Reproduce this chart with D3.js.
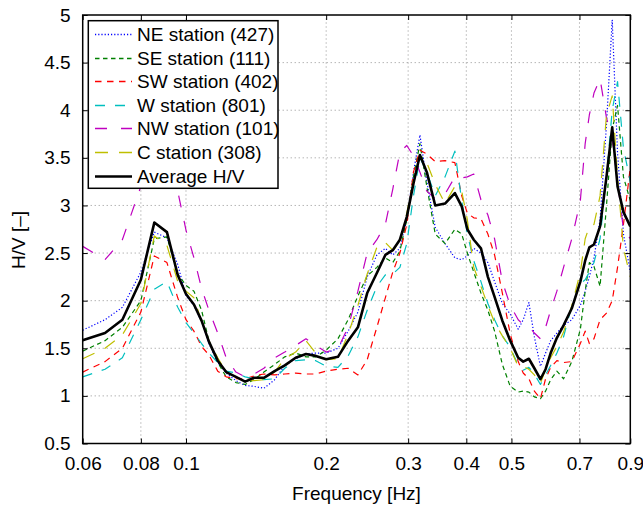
<!DOCTYPE html>
<html>
<head>
<meta charset="utf-8">
<script src="https://cdn.jsdelivr.net/npm/d3@7/dist/d3.min.js"></script>
<style>
  html, body { margin: 0; padding: 0; background: #fff; }
  svg text { font-family: "Liberation Sans", Arial, Helvetica, sans-serif; fill: #000; }
</style>
</head>
<body>
<svg id="chart" width="643" height="508"></svg>
<script>
// frequency samples [Hz]
const freqs = [0.060, 0.067, 0.073, 0.080, 0.0855, 0.091, 0.096, 0.100, 0.104, 0.108,
  0.112, 0.117, 0.122, 0.128, 0.134, 0.140, 0.147, 0.155, 0.163, 0.172,
  0.181, 0.190, 0.200, 0.212, 0.223, 0.234, 0.245, 0.257, 0.268, 0.278,
  0.288, 0.298, 0.308, 0.318, 0.329, 0.343, 0.360, 0.378, 0.391, 0.402,
  0.415, 0.430, 0.445, 0.460, 0.478, 0.497, 0.517, 0.530, 0.545, 0.560,
  0.577, 0.592, 0.607, 0.626, 0.647, 0.674, 0.703, 0.720, 0.735, 0.752,
  0.775, 0.800, 0.823, 0.845, 0.870, 0.900];

// H/V ratios per station
const neValues = [1.69, 1.80, 1.93, 2.3, 2.72, 2.66, 2.38, 2.05, 1.95, 1.78,
  1.55, 1.35, 1.24, 1.16, 1.11, 1.10, 1.08, 1.17, 1.32, 1.39,
  1.44, 1.45, 1.45, 1.50, 1.68, 1.88, 2.25, 2.48, 2.55, 2.48,
  2.55, 2.85, 3.35, 3.74, 3.25, 2.77, 2.6, 2.45, 2.43, 2.47,
  2.55, 2.5, 2.4, 2.2, 1.97, 1.86, 1.7, 1.8, 1.98, 1.62,
  1.31, 1.45, 1.58, 1.66, 1.74, 1.8, 1.95, 2.1, 2.25, 2.45,
  2.85, 3.85, 4.95, 3.55, 2.7, 2.3];
const seValues = [1.47, 1.58, 1.72, 2.0, 2.65, 2.67, 2.28, 2.16, 2.1, 1.9,
  1.58, 1.35, 1.2, 1.14, 1.12, 1.17, 1.25, 1.33, 1.41, 1.45,
  1.41, 1.41, 1.48, 1.6, 1.8, 2.05, 2.26, 2.35, 2.45, 2.4,
  2.52, 2.85, 3.3, 3.65, 3.2, 2.7, 2.6, 2.75, 2.7, 2.5,
  2.3, 2.08, 1.9, 1.68, 1.33, 1.1, 1.04, 1.05, 1.04, 0.99,
  0.97, 1.05, 1.17, 1.26, 1.18, 1.36, 1.7, 2.1, 2.4, 2.36,
  2.15, 3.0, 3.8, 4.05, 3.3, 3.05];
const swValues = [1.25, 1.36, 1.5, 1.88, 2.47, 2.4, 2.03, 1.8, 1.68, 1.52,
  1.43, 1.26, 1.2, 1.18, 1.18, 1.21, 1.23, 1.22, 1.23, 1.24,
  1.23, 1.23, 1.26, 1.28, 1.29, 1.22, 1.38, 1.72, 2.03, 2.3,
  2.5, 2.8, 3.35, 3.58, 3.54, 3.46, 3.47, 3.45, 3.1, 2.92,
  2.87, 2.86, 2.7, 2.48, 2.08, 1.65, 1.36, 1.24, 1.18, 1.05,
  0.97, 1.18, 1.3, 1.37, 1.35, 1.36, 1.55, 1.68, 1.55, 1.6,
  1.8, 1.87, 2.0, 2.35, 2.8, 3.4];
const wValues = [1.2, 1.28, 1.4, 1.8, 2.12, 2.2, 1.93, 1.77, 1.66, 1.55,
  1.45, 1.35, 1.26, 1.24, 1.2, 1.18, 1.17, 1.18, 1.29, 1.37,
  1.38, 1.37, 1.31, 1.3, 1.42, 1.62, 1.9, 2.15, 2.27, 2.28,
  2.35, 2.6, 3.1, 3.5, 3.35, 3.1, 3.3, 3.57, 3.05, 2.7,
  2.42, 2.2, 1.97, 1.8, 1.63, 1.51, 1.32, 1.27, 1.3, 1.23,
  1.12, 1.22, 1.32, 1.45, 1.62, 1.95, 2.18, 2.22, 2.3, 2.4,
  2.65, 3.3, 4.0, 4.3, 3.6, 3.25];
const nwValues = [2.57, 2.43, 2.64, 3.2, 3.9, 3.8, 3.15, 2.74, 2.45, 2.13,
  1.9, 1.66, 1.4, 1.25, 1.2, 1.23, 1.29, 1.4, 1.46, 1.53,
  1.6, 1.53, 1.46, 1.5, 1.72, 2.1, 2.5, 2.64, 2.8, 3.17,
  3.56, 3.63, 3.52, 3.35, 3.15, 3.07, 3.12, 3.3, 3.29, 3.3,
  3.33, 3.06, 2.9, 2.65, 2.2, 1.95, 1.8, 1.75, 1.73, 1.66,
  1.6, 1.72, 1.9, 2.1, 2.35, 2.65, 3.05, 3.65, 3.95, 4.18,
  4.33, 3.92, 3.7, 3.25, 2.75, 2.65];
const cValues = [1.39, 1.5, 1.64, 1.97, 2.68, 2.58, 2.2, 2.1, 2.03, 1.78,
  1.58, 1.4, 1.25, 1.2, 1.16, 1.16, 1.17, 1.25, 1.39, 1.46,
  1.58, 1.45, 1.38, 1.39, 1.65, 1.95, 2.28, 2.56, 2.61, 2.53,
  2.6, 2.92, 3.27, 3.51, 3.45, 3.22, 3.02, 3.2, 3.15, 2.85,
  2.35, 2.15, 1.95, 1.77, 1.63, 1.5, 1.31, 1.31, 1.28, 1.22,
  1.13, 1.28, 1.4, 1.52, 1.67, 1.95, 2.3, 2.65, 2.78, 2.8,
  3.1, 3.95, 4.15, 3.3, 2.55, 2.25];
const avgValues = [1.585, 1.66, 1.80, 2.22, 2.82, 2.72, 2.27, 2.07, 1.96, 1.79,
  1.57, 1.37, 1.25, 1.20, 1.15, 1.19, 1.19, 1.26, 1.32, 1.40,
  1.44, 1.42, 1.385, 1.41, 1.58, 1.72, 2.08, 2.29, 2.48, 2.53,
  2.64, 2.88, 3.23, 3.53, 3.35, 3.00, 3.02, 3.13, 2.99, 2.75,
  2.64, 2.55, 2.25, 2.04, 1.79, 1.58, 1.40, 1.36, 1.39, 1.29,
  1.175, 1.28, 1.45, 1.61, 1.74, 1.92, 2.2, 2.42, 2.56, 2.59,
  2.78, 3.3, 3.82, 3.2, 2.93, 2.78];

const seriesNames = ["NE station (427)", "SE station (111)", "SW station (402)",
  "W station (801)", "NW station (101)", "C station (308)", "Average H/V"];

const xTicks = [0.06, 0.08, 0.1, 0.2, 0.3, 0.4, 0.5, 0.7, 0.9];
const xTickLabels = ["0.06", "0.08", "0.1", "0.2", "0.3", "0.4", "0.5", "0.7", "0.9"];
const yTicks = [0.5, 1, 1.5, 2, 2.5, 3, 3.5, 4, 4.5, 5];
const yTickLabels = ["0.5", "1", "1.5", "2", "2.5", "3", "3.5", "4", "4.5", "5"];

// styles (matlab-ish)
const styles = [
  { color: "#0000ff", dash: "1.2,2", width: 1.2 },
  { color: "#008000", dash: "4.5,3.5", width: 1.2 },
  { color: "#ff0000", dash: "6.5,5.5", width: 1.2 },
  { color: "#00bfbf", dash: "10,10", width: 1.2 },
  { color: "#bf00bf", dash: "12,14", width: 1.2 },
  { color: "#bfbf00", dash: "13,11", width: 1.2 },
  { color: "#000000", dash: null, width: 2.6 }
];
const allValues = [neValues, seValues, swValues, wValues, nwValues, cValues, avgValues];

const W = 643, H = 508;
const margin = { top: 15, right: 12.7, bottom: 64.5, left: 82.7 };
const x0 = margin.left, x1 = W - margin.right;
const y0 = H - margin.bottom, y1 = margin.top;

const svg = d3.select("#chart");

const x = d3.scaleLog().domain([0.06, 0.9]).range([x0, x1]);
const y = d3.scaleLinear().domain([0.5, 5]).range([y0, y1]);

svg.append("defs").append("clipPath").attr("id", "plotClip")
  .append("rect").attr("x", x0).attr("y", y1).attr("width", x1 - x0).attr("height", y0 - y1);

// grid
const grid = svg.append("g").attr("stroke", "#777").attr("stroke-width", 0.8)
  .attr("stroke-dasharray", "1,3");
grid.selectAll(".gx").data(xTicks.slice(1, -1)).enter().append("line")
  .attr("x1", d => x(d)).attr("x2", d => x(d)).attr("y1", y0).attr("y2", y1);
grid.selectAll(".gy").data(yTicks.slice(1, -1)).enter().append("line")
  .attr("x1", x0).attr("x2", x1).attr("y1", d => y(d)).attr("y2", d => y(d));

// series lines
const line = d3.line().x((d, i) => x(freqs[i])).y(d => y(d));
const plot = svg.append("g").attr("clip-path", "url(#plotClip)");
allValues.forEach((vals, k) => {
  const s = styles[k];
  plot.append("path").datum(vals)
    .attr("d", line)
    .attr("fill", "none")
    .attr("stroke", s.color)
    .attr("stroke-width", s.width)
    .attr("stroke-dasharray", s.dash)
    .attr("stroke-linejoin", "round");
});

// axes (ticks inward, on all four sides)
const tickLen = 5;
const axB = svg.append("g").attr("transform", `translate(0,${y0})`)
  .call(d3.axisBottom(x).tickValues(xTicks).tickSize(-tickLen).tickPadding(13)
    .tickFormat((d, i) => xTickLabels[i]));
const axT = svg.append("g").attr("transform", `translate(0,${y1})`)
  .call(d3.axisTop(x).tickValues(xTicks).tickSize(-tickLen).tickFormat(""));
const axL = svg.append("g").attr("transform", `translate(${x0},0)`)
  .call(d3.axisLeft(y).tickValues(yTicks).tickSize(-tickLen).tickPadding(12)
    .tickFormat((d, i) => yTickLabels[i]));
const axR = svg.append("g").attr("transform", `translate(${x1},0)`)
  .call(d3.axisRight(y).tickValues(yTicks).tickSize(-tickLen).tickFormat(""));
[axB, axT, axL, axR].forEach(a => {
  a.select(".domain").remove();
  a.selectAll(".tick line").attr("stroke", "#000").attr("stroke-width", 1);
  a.selectAll("text").attr("font-size", 19).attr("font-family", "Liberation Sans, Arial, sans-serif");
});

svg.append("rect").attr("x", x0).attr("y", y1).attr("width", x1 - x0).attr("height", y0 - y1)
  .attr("fill", "none").attr("stroke", "#000").attr("stroke-width", 1.5);

// axis titles
svg.append("text").attr("x", (x0 + x1) / 2).attr("y", 500)
  .attr("text-anchor", "middle").attr("font-size", 19).text("Frequency [Hz]");
svg.append("text").attr("transform", "translate(25,240) rotate(-90)")
  .attr("text-anchor", "middle").attr("font-size", 19).text("H/V [\u2013]");

// legend
const lg = svg.append("g");
lg.append("rect").attr("x", 88.3).attr("y", 20.7).attr("width", 189.7).attr("height", 167.6)
  .attr("fill", "#fff").attr("stroke", "#000").attr("stroke-width", 1.5);
seriesNames.forEach((name, k) => {
  const s = styles[k];
  const cy = Math.round(34 + k * 23.6) + 0.5;
  lg.append("line").attr("x1", 95).attr("x2", 132).attr("y1", cy).attr("y2", cy)
    .attr("stroke", s.color).attr("stroke-width", Math.max(s.width, 1.6))
    .attr("stroke-dasharray", s.dash);
  lg.append("text").attr("x", 137).attr("y", cy).attr("dy", "0.35em")
    .attr("font-size", 19).text(name);
});
</script>
</body>
</html>
